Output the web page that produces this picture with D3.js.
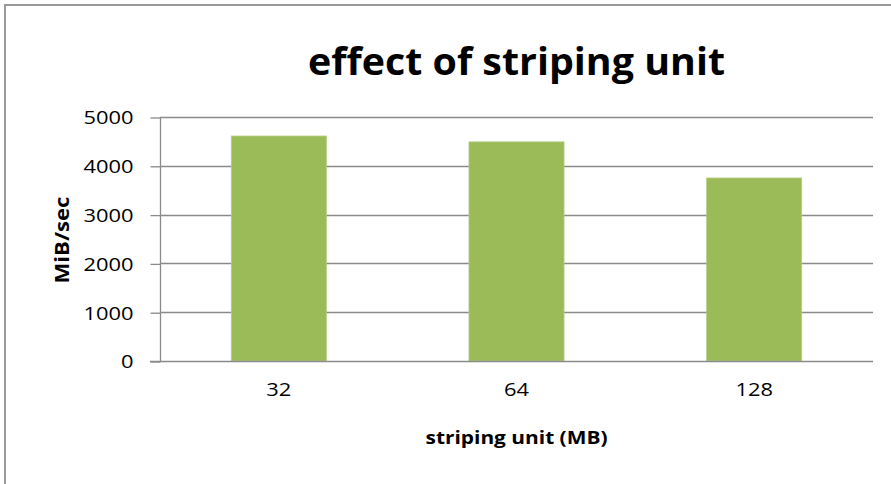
<!DOCTYPE html>
<html>
<head>
<meta charset="utf-8">
<script src="https://cdn.jsdelivr.net/npm/d3@7"></script>
<style>
  html, body { margin: 0; padding: 0; background: #fff; }
  svg { display: block; }
  text { font-family: "Open Sans", "Noto Sans", sans-serif; fill: #000; }
</style>
</head>
<body>
<svg id="chart" width="891" height="484"></svg>
<script>
// Throughput per striping unit size
const categories = ["32", "64", "128"];
const throughput = [4610, 4490, 3750];
const yTicks = [0, 1000, 2000, 3000, 4000, 5000];
const titleText = "effect of striping unit";
const xTitle = "striping unit (MB)";
const yTitle = "MiB/sec";

const W = 891, H = 484;
const plot = { left: 160, right: 873, top: 117, bottom: 361 };
const barColor = "#9bbb59";
const gridColor = "#8a8a8a";
const stretch = 1.15; // horizontal widening of the text glyphs

const svg = d3.select("#chart");

// outer chart frame (only top and left edges are visible)
svg.append("rect")
  .attr("x", 5).attr("y", 5)
  .attr("width", W + 20).attr("height", H + 20)
  .attr("fill", "#fff")
  .attr("stroke", "#9a9a9a")
  .attr("stroke-width", 2);

const x = d3.scaleBand()
  .domain(categories)
  .range([plot.left, plot.right])
  .paddingInner(0.6)
  .paddingOuter(0.3);

const y = d3.scaleLinear()
  .domain([0, 5000])
  .range([plot.bottom, plot.top]);

// horizontal gridlines
svg.append("g")
  .selectAll("line")
  .data(yTicks.filter(d => d > 0))
  .join("line")
  .attr("x1", plot.left).attr("x2", plot.right)
  .attr("y1", d => Math.round(y(d)) + 0.5)
  .attr("y2", d => Math.round(y(d)) + 0.5)
  .attr("stroke", gridColor)
  .attr("stroke-width", 1.3);

// bars
svg.append("g")
  .selectAll("rect")
  .data(categories.map((c, i) => ({ c, v: throughput[i] })))
  .join("rect")
  .attr("x", d => x(d.c))
  .attr("y", d => y(d.v))
  .attr("width", x.bandwidth())
  .attr("height", d => y(0) - y(d.v))
  .attr("fill", barColor)
  .attr("stroke", "#b3cd82")
  .attr("stroke-width", 0.8);

// y axis
const yAxis = svg.append("g")
  .attr("transform", `translate(${plot.left + 0.5},0.5)`)
  .call(d3.axisLeft(y).tickValues(yTicks).tickSize(10).tickPadding(17).tickFormat(d3.format("d")));
yAxis.selectAll("path, line").attr("stroke", gridColor).attr("stroke-width", 1.3);
yAxis.select(".domain").attr("d", `M0,${plot.top - 0.5}V${plot.bottom - 0.5}`);
yAxis.selectAll("text")
  .style("font-family", "'Open Sans', sans-serif")
  .style("font-size", "19px")
  .style("font-weight", "500")
  .attr("dy", "0.34em")
  .attr("fill", "#000");

// x axis (baseline line plus category labels)
svg.append("line")
  .attr("x1", plot.left - 10).attr("x2", plot.right)
  .attr("y1", plot.bottom + 0.5).attr("y2", plot.bottom + 0.5)
  .attr("stroke", gridColor).attr("stroke-width", 1.3);
const xAxis = svg.append("g")
  .attr("transform", `translate(0,${plot.bottom})`)
  .call(d3.axisBottom(x).tickSize(0).tickPadding(29));
xAxis.select(".domain").remove();
xAxis.selectAll("text")
  .style("font-family", "'Open Sans', sans-serif")
  .style("font-size", "19px")
  .style("font-weight", "500")
  .attr("dy", "0.3em")
  .attr("fill", "#000");

// widen tick labels horizontally
svg.selectAll(".tick text").each(function () {
  const len = this.getComputedTextLength();
  d3.select(this).attr("textLength", len * stretch).attr("lengthAdjust", "spacingAndGlyphs");
});

// title
svg.append("text")
  .attr("x", (plot.left + plot.right) / 2)
  .attr("y", 75)
  .attr("text-anchor", "middle")
  .style("font-size", "37px")
  .style("font-weight", "700")
  .attr("textLength", 417)
  .attr("lengthAdjust", "spacingAndGlyphs")
  .text(titleText);

// x axis title
svg.append("text")
  .attr("x", (plot.left + plot.right) / 2)
  .attr("y", 444)
  .attr("text-anchor", "middle")
  .style("font-size", "18px")
  .style("font-weight", "700")
  .attr("textLength", 182)
  .attr("lengthAdjust", "spacingAndGlyphs")
  .text(xTitle);

// y axis title
svg.append("text")
  .attr("transform", `translate(69,${(plot.top + plot.bottom) / 2 + 1}) rotate(-90)`)
  .attr("text-anchor", "middle")
  .style("font-size", "19px")
  .style("font-weight", "700")
  .attr("textLength", 87)
  .attr("lengthAdjust", "spacingAndGlyphs")
  .text(yTitle);
</script>
</body>
</html>
